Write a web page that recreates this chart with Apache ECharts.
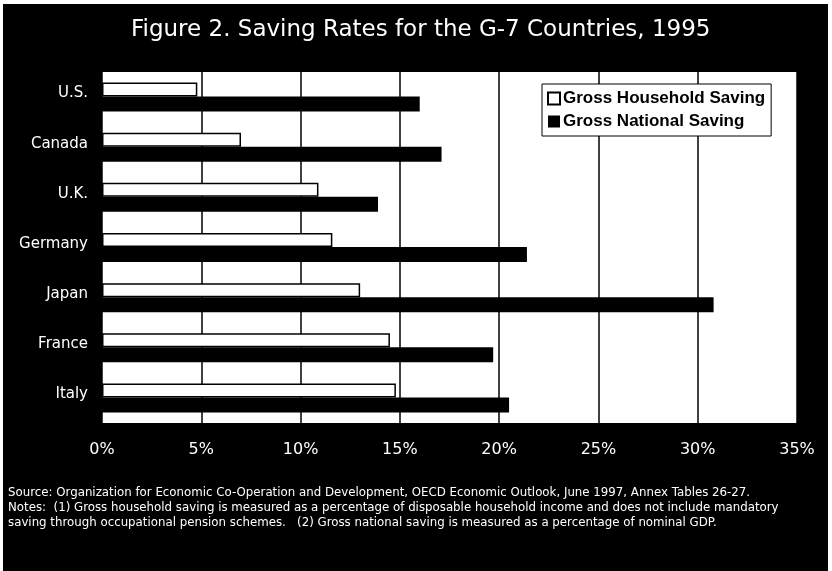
<!DOCTYPE html>
<html>
<head>
<meta charset="utf-8">
<script src="https://cdn.jsdelivr.net/npm/echarts@6/dist/echarts.min.js"></script>
<style>
  html, body { margin: 0; padding: 0; background: #fff; }
  #chart { position: absolute; left: 3px; top: 4px; width: 825px; height: 567px; }
</style>
</head>
<body>
<div id="chart"></div>
<script>
// G-7 saving rates, 1995 (percent)
const countries = ['U.S.', 'Canada', 'U.K.', 'Germany', 'Japan', 'France', 'Italy'];
const householdSaving = [4.8, 7.0, 10.9, 11.6, 13.0, 14.5, 14.8];
const nationalSaving = [16.0, 17.1, 13.9, 21.4, 30.8, 19.7, 20.5];
const seriesNames = ['Gross Household Saving', 'Gross National Saving'];
const titleText = 'Figure 2. Saving Rates for the G-7 Countries, 1995';
const footnotes = [
  'Source: Organization for Economic Co-Operation and Development, OECD Economic Outlook, June 1997, Annex Tables 26-27.',
  'Notes:  (1) Gross household saving is measured as a percentage of disposable household income and does not include mandatory',
  'saving through occupational pension schemes.   (2) Gross national saving is measured as a percentage of nominal GDP.'
];

const SANS = '"Liberation Sans", Arial, sans-serif';
const WIDE = '"DejaVu Sans", Verdana, sans-serif';
const chart = echarts.init(document.getElementById('chart'), null, { renderer: 'canvas' });

chart.setOption({
  backgroundColor: '#000',
  animation: false,
  title: {
    text: titleText,
    left: 123,
    top: 10,
    textStyle: { color: '#fff', fontFamily: WIDE, fontSize: 23, fontWeight: 'normal' }
  },
  legend: {
    orient: 'vertical',
    left: 539,
    top: 80,
    backgroundColor: '#fff',
    borderColor: '#000',
    borderWidth: 1,
    padding: [6, 6, 6, 5],
    itemGap: 6,
    itemWidth: 12,
    itemHeight: 12,
    icon: 'rect',
    textStyle: { color: '#000', fontFamily: SANS, fontSize: 17, fontWeight: 'bold', padding: [0, 0, 0, -2] },
    data: seriesNames
  },
  grid: {
    left: 99,
    right: 31,
    top: 68,
    bottom: 148,
    show: true,
    backgroundColor: '#fff',
    borderWidth: 0
  },
  xAxis: {
    type: 'value',
    min: 0,
    max: 35,
    interval: 5,
    axisLine: { show: false },
    axisTick: { show: false },
    axisLabel: {
      formatter: '{value}%',
      color: '#fff',
      fontFamily: WIDE,
      fontSize: 16,
      margin: 19
    },
    splitLine: { show: true, lineStyle: { color: '#000', width: 1.5 } }
  },
  yAxis: {
    type: 'category',
    inverse: true,
    data: countries,
    axisLine: { show: false },
    axisTick: { show: false },
    axisLabel: {
      color: '#fff',
      fontFamily: WIDE,
      fontSize: 15,
      margin: 14,
      verticalAlign: 'bottom',
      lineHeight: 7
    }
  },
  series: [
    {
      name: seriesNames[0],
      type: 'bar',
      data: householdSaving,
      barWidth: 14,
      barGap: '0%',
      itemStyle: { color: '#fff', borderColor: '#000', borderWidth: 1.5 }
    },
    {
      name: seriesNames[1],
      type: 'bar',
      data: nationalSaving,
      barWidth: 15,
      barGap: '0%',
      itemStyle: { color: '#000' }
    }
  ],
  graphic: footnotes.map((line, i) => ({
    type: 'text',
    left: 5,
    top: 483 + i * 15,
    style: {
      text: line,
      fill: '#fff',
      font: '11.8px ' + WIDE
    }
  }))
});
</script>
</body>
</html>
